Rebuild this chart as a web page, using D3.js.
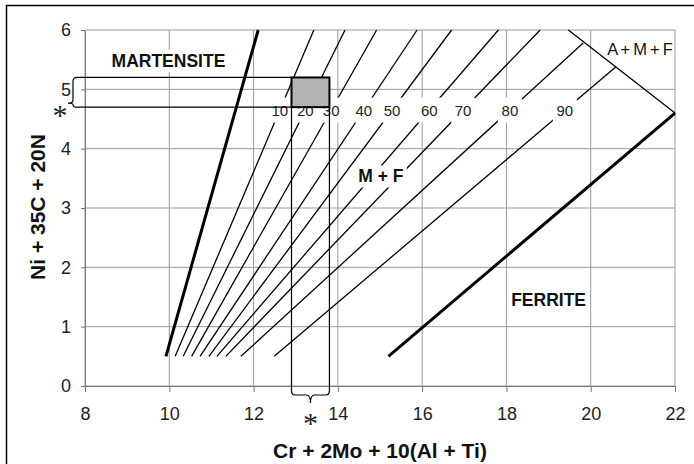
<!DOCTYPE html>
<html><head><meta charset="utf-8">
<script src="https://cdn.jsdelivr.net/npm/d3@7"></script>
<style>
html,body{margin:0;padding:0;background:#fff;}
svg{display:block;font-family:"Liberation Sans",Arial,sans-serif;}
</style></head>
<body><div id="chart"></div>
<script>
// ---- data ----
const xTicks = [8, 10, 12, 14, 16, 18, 20, 22];
const yTicks = [0, 1, 2, 3, 4, 5, 6];
const pctLabels = ["10", "20", "30", "40", "50", "60", "70", "80", "90"];
const pctStartX = [10.14, 10.33, 10.53, 10.73, 10.94, 11.13, 11.34, 11.70, 12.49];
const pctStartY = [0.5, 0.5, 0.5, 0.5, 0.5, 0.5, 0.5, 0.5, 0.5];
const pctEndX = [13.43, 14.17, 14.92, 15.88, 16.70, 17.81, 18.80, 19.82, 20.60];
const pctEndY = [6, 6, 6, 6, 6, 6, 6, 5.78, 5.38];
const pctLabelY = 4.65;
const martensiteLine = [[9.92, 0.5], [12.11, 6]];
const ferriteLine = [[15.2, 0.5], [22, 4.6]];
const amfBoundary = [[19.47, 6], [22, 4.6]];
const bandX = [12.9, 13.8];
const bandY = [4.7, 5.2];
const regionLabels = [
  {text: "MARTENSITE", x: 9.98, y: 5.38},
  {text: "M + F", x: 15.02, y: 3.43},
  {text: "FERRITE", x: 19.0, y: 1.35}
];
const amfLabel = {text: "A + M + F", x: 21.95, y: 5.58};
const xTitle = "Cr + 2Mo + 10(Al + Ti)";
const yTitle = "Ni + 35C + 20N";

// ---- drawing ----
const W = 694, H = 464;
const svg = d3.select("#chart").append("svg").attr("width", W).attr("height", H);
const x = d3.scaleLinear().domain([8, 22]).range([85, 675]);
const y = d3.scaleLinear().domain([0, 6]).range([386, 30]);

// outer frame
svg.append("rect").attr("x", 6.5).attr("y", 5.5).attr("width", 720).attr("height", 480)
  .attr("fill", "none").attr("stroke", "#000").attr("stroke-width", 1.5);

// grid
const grid = svg.append("g").attr("stroke", "#9a9a9a").attr("stroke-width", 1);
grid.selectAll("line.v").data(xTicks).join("line").attr("class", "v")
  .attr("x1", d => x(d)).attr("x2", d => x(d)).attr("y1", y(0)).attr("y2", y(6));
grid.selectAll("line.h").data(yTicks).join("line").attr("class", "h")
  .attr("x1", x(8)).attr("x2", x(22)).attr("y1", d => y(d)).attr("y2", d => y(d));

// axes
const xAxis = svg.append("g").attr("transform", `translate(0,${y(0)})`)
  .call(d3.axisBottom(x).tickValues(xTicks).tickFormat(d3.format("d"))
    .tickSize(6).tickPadding(15).tickSizeOuter(0));
const yAxis = svg.append("g").attr("transform", `translate(${x(8)},0)`)
  .call(d3.axisLeft(y).tickValues(yTicks).tickFormat(d3.format("d"))
    .tickSize(4).tickPadding(10).tickSizeOuter(0));
[xAxis, yAxis].forEach(a => {
  a.select(".domain").attr("stroke", "#777");
  a.selectAll(".tick line").attr("stroke", "#777");
  a.selectAll("text").attr("font-size", 18).attr("fill", "#222")
    .attr("font-family", "'Liberation Sans', Arial, sans-serif");
});

// percentage lines
const lineG = svg.append("g").attr("stroke", "#000").attr("stroke-width", 1.3).attr("fill", "none");
pctLabels.forEach((lab, i) => {
  lineG.append("line")
    .attr("x1", x(pctStartX[i])).attr("y1", y(pctStartY[i]))
    .attr("x2", x(pctEndX[i])).attr("y2", y(pctEndY[i]));
});
// thick boundary lines
[martensiteLine, ferriteLine].forEach(l => {
  svg.append("line").attr("x1", x(l[0][0])).attr("y1", y(l[0][1]))
    .attr("x2", x(l[1][0])).attr("y2", y(l[1][1]))
    .attr("stroke", "#000").attr("stroke-width", 3);
});
svg.append("line").attr("x1", x(amfBoundary[0][0])).attr("y1", y(amfBoundary[0][1]))
  .attr("x2", x(amfBoundary[1][0])).attr("y2", y(amfBoundary[1][1]))
  .attr("stroke", "#000").attr("stroke-width", 1.3);

// percentage labels (with white background interrupting lines)
pctLabels.forEach((lab, i) => {
  const t = (pctLabelY - pctStartY[i]) / (pctEndY[i] - pctStartY[i]);
  const lx = pctStartX[i] + t * (pctEndX[i] - pctStartX[i]);
  const px = x(lx), py = y(pctLabelY);
  svg.append("rect").attr("x", px - 12).attr("y", py - 12.5).attr("width", 24).attr("height", 25)
    .attr("fill", "#fff");
  svg.append("text").attr("x", px).attr("y", py + 5.5).attr("text-anchor", "middle")
    .attr("font-size", 15).attr("fill", "#222").text(lab);
});

// region labels
regionLabels.forEach(r => {
  const t = svg.append("text").attr("x", x(r.x)).attr("y", y(r.y)).attr("text-anchor", "middle")
    .attr("font-size", 17.5).attr("font-weight", "bold").attr("fill", "#111").text(r.text);
  const bb = t.node().getBBox();
  svg.insert("rect", () => t.node()).attr("x", bb.x - 3).attr("y", bb.y - 1)
    .attr("width", bb.width + 6).attr("height", bb.height + 2).attr("fill", "#fff");
});
svg.append("text").attr("x", x(amfLabel.x)).attr("y", y(amfLabel.y)).attr("text-anchor", "end")
  .attr("font-size", 16.5).attr("word-spacing", -1.5).attr("fill", "#111").text(amfLabel.text);

// band, box and braces
const bx0 = x(bandX[0]), bx1 = x(bandX[1]);
const by0 = y(bandY[1]), by1 = y(bandY[0]);
const bandG = svg.append("g").attr("fill", "none").attr("stroke", "#000").attr("stroke-width", 1.2);
// horizontal band with left brace
const lx = x(8) - 12, nub = lx - 5, ny = by1 - 4;
bandG.append("path").attr("d",
  `M${bx0},${by0} L${lx + 4},${by0} Q${lx},${by0} ${lx},${by0 + 4} L${lx},${ny - 3} ` +
  `Q${lx},${ny} ${nub},${ny} Q${lx},${ny} ${lx},${ny + 1.5} Q${lx},${by1} ${lx + 4},${by1} L${bx0},${by1}`);
// vertical band with bottom brace
const bby = y(0) + 9, bm = (bx0 + bx1) / 2;
bandG.append("path").attr("d",
  `M${bx0},${by1} L${bx0},${bby - 4} Q${bx0},${bby} ${bx0 + 4},${bby} L${bm - 4},${bby} ` +
  `Q${bm},${bby} ${bm},${bby + 8} Q${bm},${bby} ${bm + 4},${bby} L${bx1 - 4},${bby} ` +
  `Q${bx1},${bby} ${bx1},${bby - 4} L${bx1},${by1}`);
svg.append("rect").attr("x", bx0).attr("y", by0).attr("width", bx1 - bx0).attr("height", by1 - by0)
  .attr("fill", "#b3b3b3").attr("stroke", "#000").attr("stroke-width", 2);

// asterisks
svg.append("text").attr("x", nub - 8).attr("y", ny + 22).attr("text-anchor", "middle")
  .attr("font-family", "'Liberation Serif', serif").attr("font-size", 30).attr("fill", "#222").text("*");
svg.append("text").attr("x", bm).attr("y", bby + 38).attr("text-anchor", "middle")
  .attr("font-family", "'Liberation Serif', serif").attr("font-size", 30).attr("fill", "#222").text("*");

// axis titles
svg.append("text").attr("x", 380).attr("y", 458).attr("text-anchor", "middle")
  .attr("font-size", 21).attr("font-weight", "bold").attr("fill", "#111").text(xTitle);
svg.append("text").attr("transform", "translate(45,207) rotate(-90)").attr("text-anchor", "middle")
  .attr("font-size", 21).attr("font-weight", "bold").attr("fill", "#111").text(yTitle);
</script></body></html>
